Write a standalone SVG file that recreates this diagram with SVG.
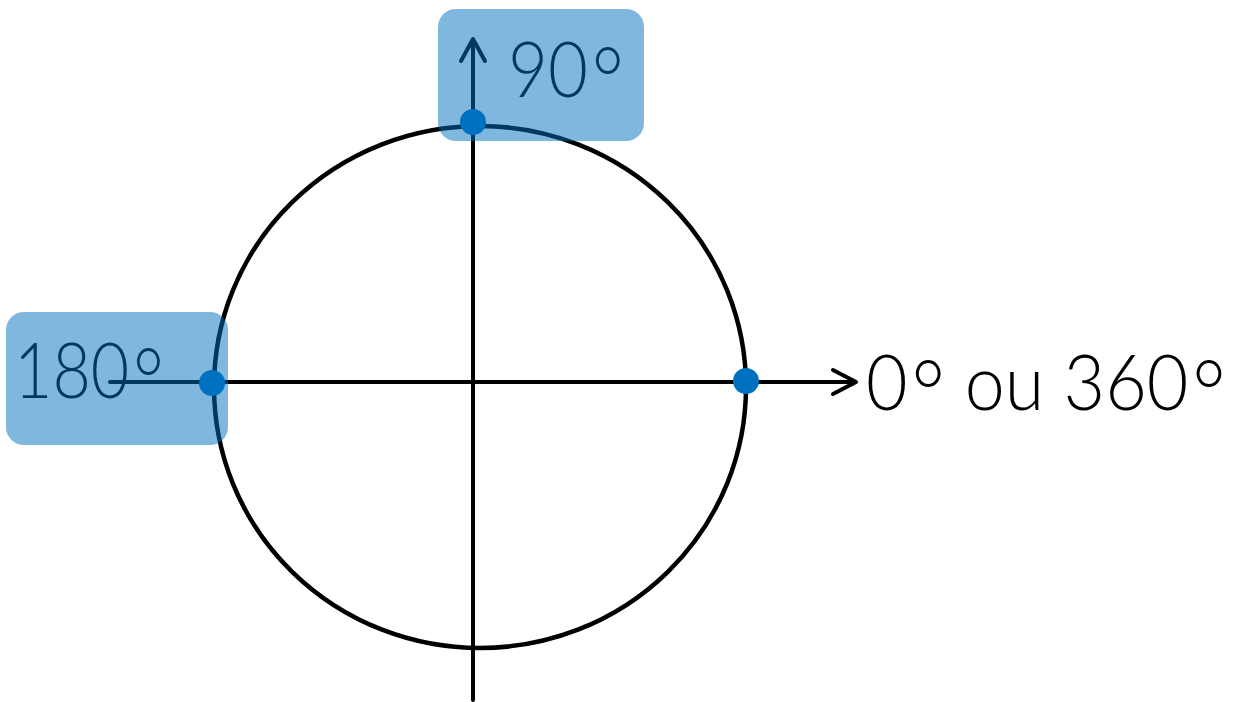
<svg xmlns="http://www.w3.org/2000/svg" width="1234" height="702" viewBox="0 0 1234 702">
<style>
.ax{stroke:#000;stroke-width:4;fill:none;stroke-linecap:round;stroke-linejoin:round}
.lbl{font-family:Lato,"Liberation Sans",sans-serif;font-weight:300;font-size:77px;fill:#000}
.deg{font-size:88px}
.box{fill:#0070BE;fill-opacity:0.5}
.dot{fill:#0070C0}
</style>
<rect width="1234" height="702" fill="#fff"/>
<g id="circle">
<ellipse cx="480" cy="387" rx="266" ry="261" fill="none" stroke="#000" stroke-width="4.5"/>
</g>
<g id="connectors">
<path class="ax" d="M110 382 H855"/>
<path class="ax" d="M833 370 L856 382 L833 394"/>
<path class="ax" d="M473 700 V40"/>
<path class="ax" d="M461 61 L473 39 L485 61"/>
</g>
<g id="label-0">
<text class="lbl" x="866" y="410" textLength="360" lengthAdjust="spacingAndGlyphs">0<tspan class="deg" dx="4" dy="14">°</tspan><tspan dy="-14"> ou 360</tspan><tspan class="deg" dx="4" dy="14">°</tspan></text>
</g>
<g id="label-90">
<text class="lbl" x="508" y="97" textLength="116" lengthAdjust="spacingAndGlyphs">90<tspan class="deg" dx="4" dy="14">°</tspan></text>
<rect class="box" x="438" y="9" width="206" height="132" rx="18"/>
</g>
<g id="label-180">
<text class="lbl" x="14" y="398" textLength="150" lengthAdjust="spacingAndGlyphs">180<tspan class="deg" dx="4" dy="14">°</tspan></text>
<rect class="box" x="6" y="312" width="222" height="133" rx="18"/>
</g>
<g id="points">
<circle class="dot" cx="473" cy="122" r="13"/>
<circle class="dot" cx="212" cy="383" r="13"/>
<circle class="dot" cx="746" cy="381" r="13"/>
</g>
</svg>
